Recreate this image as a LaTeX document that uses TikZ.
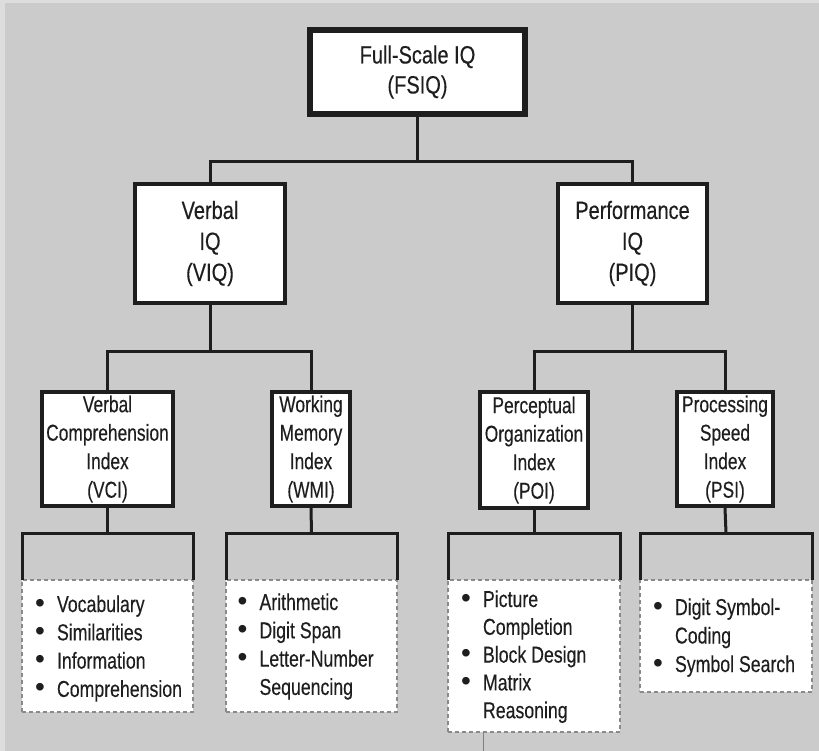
\documentclass[tikz,border=0pt]{standalone}
\usepackage{fontspec}
\setmainfont{Liberation Sans}[FakeStretch=0.8, FakeBold=0.3]
\newfontfamily\condf{Liberation Sans}[FakeStretch=0.77, FakeBold=0.3]
\newfontfamily\boxf{Liberation Sans}[FakeStretch=0.755, FakeBold=0.3]
\newfontfamily\bulf{Liberation Sans}

\definecolor{bggray}{HTML}{CBCBCB}
\definecolor{edgegray}{HTML}{DDDDDD}
\definecolor{ink}{HTML}{1E1E1E}
\definecolor{dashgray}{HTML}{8A8A8A}

\tikzset{
  topbox/.style={draw=ink, fill=white, line width=6pt, minimum width=215pt,
    minimum height=84pt, inner sep=0pt, align=center, text=ink,
    font=\fontsize{25}{30}\selectfont},
  iqbox/.style={draw=ink, fill=white, line width=4.5pt, minimum height=119pt,
    inner sep=0pt, align=center, text=ink, font=\fontsize{25}{31}\selectfont},
  indexbox/.style={draw=ink, fill=white, line width=4pt, minimum height=114pt,
    inner sep=0pt, align=center, text=ink,
    font=\boxf\fontsize{23}{28.5}\selectfont},
  link/.style={draw=ink, line width=3pt},
  bracket/.style={draw=ink, line width=3pt, line join=miter},
  capzone/.style={inner sep=0pt, outer sep=0pt, minimum height=47pt},
  testlist/.style={draw=dashgray, dash pattern=on 4pt off 3pt, fill=white,
    line width=1.5pt, inner sep=0pt, outer sep=0pt},
  listtext/.style={anchor=base west, inner sep=0pt, text=ink,
    font=\condf\fontsize{23}{28.3}\selectfont},
}

% list bullet, a little larger than the text bullet
\newcommand{\bul}{\smash{\bulf\fontsize{28}{28}\selectfont\textbullet}}
% bullet list with a fixed gap between the bullet and the entry
\newcommand{\testitems}[1]{\begin{tabular}[t]{@{}l@{\hspace{12pt}}l@{}}#1\end{tabular}}

\begin{document}
\begin{tikzpicture}[x=1pt,y=-1pt]
  \useasboundingbox (0,0) rectangle (819,751);
  \fill[edgegray] (0,0) rectangle (819,751);
  \fill[bggray] (5,3) rectangle (819,751);

  % scale hierarchy
  \node[topbox] (fsiq) at (417.5,72) {Full-Scale IQ\\(FSIQ)};

  \node[iqbox, minimum width=150pt] (viq) at (210,243.5) {Verbal\\IQ\\(VIQ)};
  \node[iqbox, minimum width=149pt] (piq) at (632.5,243.5) {Performance\\IQ\\(PIQ)};

  \node[indexbox, minimum width=131pt] (vci) at (107.5,449)
    {Verbal\\Comprehension\\Index\\(VCI)};
  \node[indexbox, minimum width=78pt] (wmi) at (311,449)
    {Working\\Memory\\Index\\(WMI)};
  \node[indexbox, minimum width=108pt, minimum height=116pt] (poi) at (534,450)
    {Perceptual\\Organization\\Index\\(POI)};
  \node[indexbox, minimum width=96pt] (psi) at (725,449)
    {Processing\\Speed\\Index\\(PSI)};

  % tree connectors
  \draw[link] (fsiq.south) -- ++(0,45) coordinate (fsplit) -| (viq.north);
  \draw[link] (fsplit) -| (piq.north);
  \draw[link] (viq.south) -- ++(0,46) coordinate (vsplit) -| (vci.north);
  \draw[link] (vsplit) -| (wmi.north);
  \draw[link] (piq.south) -- ++(0,46) coordinate (psplit) -| (poi.north);
  \draw[link] (psplit) -| (psi.north);

  % open brackets under each index and the subtest lists
  \node[capzone, minimum width=171pt] (vcicap) at (107.5,556.5) {};
  \node[capzone, minimum width=171pt] (wmicap) at (311.5,556.5) {};
  \node[capzone, minimum width=172pt] (poicap) at (534,556.5) {};
  \node[capzone, minimum width=172pt] (psicap) at (726,556.5) {};

  \node[testlist, minimum width=171pt, minimum height=132pt, anchor=north] (vcilist) at (vcicap.south) {};
  \node[testlist, minimum width=171pt, minimum height=132pt, anchor=north] (wmilist) at (wmicap.south) {};
  \node[testlist, minimum width=172pt, minimum height=152pt, anchor=north] (poilist) at (poicap.south) {};
  \node[testlist, minimum width=172pt, minimum height=112pt, anchor=north] (psilist) at (psicap.south) {};

  \foreach \k in {vci,wmi,poi,psi}{
    \draw[link] (\k.south) -- (\k cap.north);
    \draw[bracket] (\k cap.south west) -- (\k cap.north west)
      -- (\k cap.north east) -- (\k cap.south east);
  }

  \node[listtext] (vcitests) at (35,612) {\testitems{%
    \bul & Vocabulary\\
    \bul & Similarities\\
    \bul & Information\\
    \bul & Comprehension}};
  \node[listtext] (wmitests) at (237.5,610) {\testitems{%
    \bul & Arithmetic\\
    \bul & Digit Span\\
    \bul & Letter-Number\\
         & Sequencing}};
  \node[listtext, font=\condf\fontsize{23}{27.8}\selectfont] (poitests) at (461,607) {\testitems{%
    \bul & Picture\\
         & Completion\\
    \bul & Block Design\\
    \bul & Matrix\\
         & Reasoning}};
  \node[listtext, font=\condf\fontsize{23}{28.5}\selectfont] (psitests) at (653,615) {\testitems{%
    \bul & Digit Symbol-\\
         & Coding\\
    \bul & Symbol Search}};

  % thin rule below the perceptual organization list
  \draw[gray, line width=1pt] (poilist.south west) ++(35,0) -- ++(0,20);
\end{tikzpicture}
\end{document}
